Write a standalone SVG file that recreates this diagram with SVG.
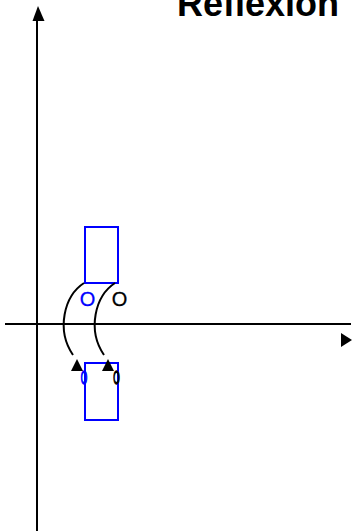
<svg xmlns="http://www.w3.org/2000/svg" width="352" height="531" viewBox="0 0 352 531">
<style>
.ax{stroke:#000;stroke-width:2;fill:none}
.arc{stroke:#000;stroke-width:2;fill:none}
.head{fill:#000;stroke:none}
.shape{fill:none;stroke:#0000FF;stroke-width:2}
.o{font-family:"Liberation Sans",Arial,sans-serif;font-size:20px;text-anchor:middle;stroke-width:0.3}
.blue{fill:#0000FF;stroke:#0000FF}
.black{fill:#000;stroke:#000}
.small{stroke-width:1.4}
.title{font-family:"Liberation Sans",Arial,sans-serif;font-size:36px;font-weight:bold;fill:#000}
</style>
<rect width="352" height="531" fill="#fff"/>
<g id="title"><text class="title" x="177" y="16">Reflexion</text></g>
<g id="axes">
<line class="ax" x1="37" y1="19" x2="37" y2="531"/>
<polygon class="head" points="38,6 32.5,21 44.5,21"/>
<line class="ax" x1="5" y1="324" x2="351" y2="324"/>
<polygon class="head" points="352,340 341,333 341,347"/>
</g>
<g id="original">
<rect class="shape" x="85" y="227" width="33" height="56"/>
<text class="o blue" x="87.5" y="305.5">O</text>
<text class="o black" x="119.5" y="305.5">O</text>
</g>
<g id="reflected">
<rect class="shape" x="85" y="363" width="33" height="57"/>
<text class="o blue small" transform="translate(84,384) scale(0.42,0.9)" x="0" y="0">O</text>
<text class="o black small" transform="translate(116.5,384) scale(0.42,0.9)" x="0" y="0">O</text>
</g>
<g id="connectors">
<path class="arc" d="M84,283 C64,296 56,330 73,355"/>
<path class="arc" d="M115,283 C95,296 87,330 104,355"/>
<polygon class="head" points="77,359 71,371 83,371"/>
<polygon class="head" points="108,359 102,371 114,371"/>
</g>
</svg>
